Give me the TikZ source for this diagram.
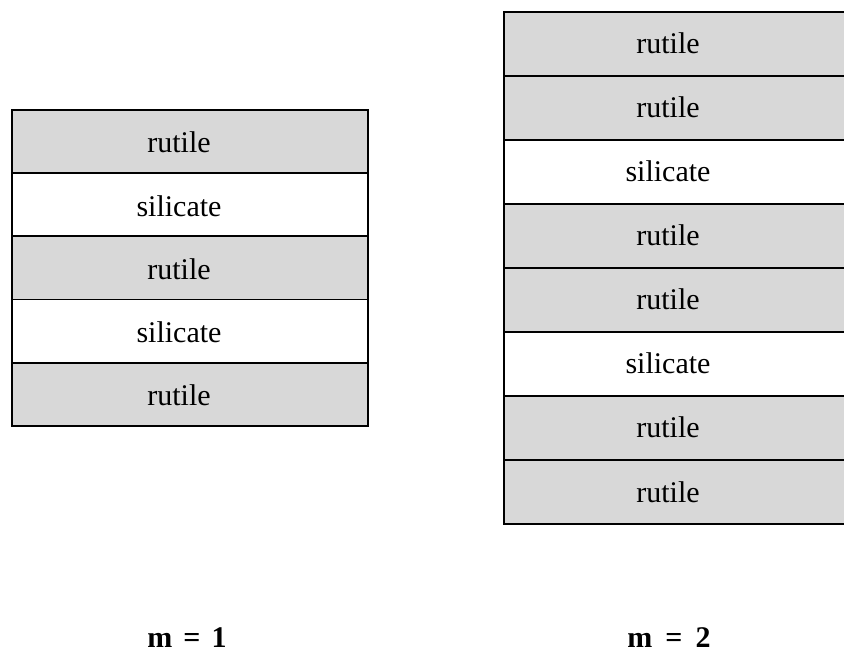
\documentclass[tikz,border=0pt]{standalone}
\usepackage{fontspec}
\setmainfont{Liberation Serif}
\definecolor{rutilegray}{RGB}{216,216,216}
\begin{document}
\begin{tikzpicture}[x=1pt,y=-1pt,
  layer/.style={draw=black,line width=1.8pt},
  rut/.style={layer,fill=rutilegray},
  sil/.style={layer,fill=white},
  lbl/.style={font=\fontsize{30}{34}\selectfont,anchor=base},
  caption/.style={font=\bfseries\fontsize{30}{34}\selectfont,anchor=base}]
\useasboundingbox (0,0) rectangle (844,652);
% m = 1 stack
\foreach \i/\kind/\txt in {0/rut/rutile,1/sil/silicate,2/rut/rutile,3/sil/silicate,4/rut/rutile}{
  \draw[\kind] (12,{110+63.2*\i}) rectangle (368,{110+63.2*(\i+1)});
  \node[lbl] (a\i) at (179,{110+63.2*\i+43}) {\txt};
}
% m = 2 stack, running off the right edge
\foreach \i/\kind/\txt in {0/rut/rutile,1/rut/rutile,2/sil/silicate,3/rut/rutile,4/rut/rutile,5/sil/silicate,6/rut/rutile,7/rut/rutile}{
  \draw[\kind] (504,{12+64*\i}) rectangle (860,{12+64*(\i+1)});
  \node[lbl] (b\i) at (668,{12+64*\i+42}) {\txt};
}
\node[caption] (m1) at (187,647) {m\hspace{11pt}=\hspace{11pt}1};
\node[caption] (m2) at (669,647) {m\hspace{13pt}=\hspace{13pt}2};
\end{tikzpicture}
\end{document}
